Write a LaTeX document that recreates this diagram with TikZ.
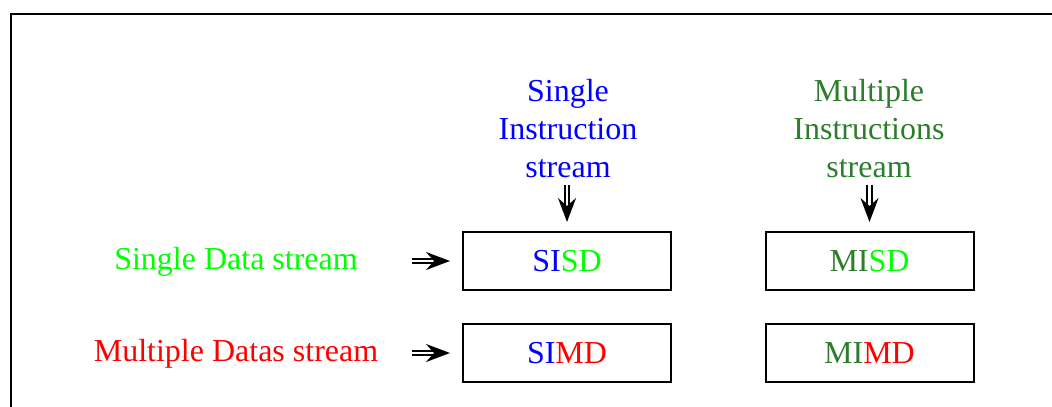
\documentclass[tikz,border=0pt]{standalone}
\usepackage{fontspec}
\setmainfont{Liberation Serif}
\usepackage{xcolor}
\usetikzlibrary{arrows.meta, positioning}
\definecolor{instgreen}{RGB}{45,125,45}
\definecolor{datagreen}{RGB}{0,255,0}
\definecolor{datared}{RGB}{255,0,0}
\definecolor{instblue}{RGB}{0,0,255}

\begin{document}
\begin{tikzpicture}[
    x=0.5pt, y=-0.5pt,
    every node/.style={font=\fontsize{16}{19}\selectfont},
    label/.style={align=center, inner sep=0pt},
    classbox/.style={draw, line width=1pt, rectangle, minimum width=104pt, minimum height=29pt},
    dblarrow/.style={double, line width=0.9pt, double distance=1.4pt, -{Stealth[length=12pt, width=9pt, inset=4pt]}}
]
\useasboundingbox (0,0) rectangle (1052,406);

% Frame
\draw[line width=0.8pt] (11,430) -- (11,14) -- (1070,14);

% Instruction streams
\node[label, text=instblue] (si) at (568,129) {Single\\Instruction\\stream};
\node[label, text=instgreen] (mi) at (869,129) {Multiple\\Instructions\\stream};

% Data streams
\node[label, text=datagreen] (sd) at (236,262) {Single Data stream};
\node[label, text=datared] (md) at (236,354) {Multiple Datas stream};

% Classes
\node[classbox] (sisd) at (567,261) {\textcolor{instblue}{SI}\textcolor{datagreen}{SD}};
\node[classbox] (misd) at (869.5,261) {\textcolor{instgreen}{MI}\textcolor{datagreen}{SD}};
\node[classbox] (simd) at (567,353) {\textcolor{instblue}{SI}\textcolor{datared}{MD}};
\node[classbox] (mimd) at (869.5,353) {\textcolor{instgreen}{MI}\textcolor{datared}{MD}};

% Arrow starts
\coordinate (siin) at (567,185);
\coordinate (miin) at (869.5,185);
\coordinate (sdin) at (412,261);
\coordinate (mdin) at (412,353);

% Arrows
\draw[dblarrow, shorten >=4.5pt] (siin) -- (sisd);
\draw[dblarrow, shorten >=4.5pt] (miin) -- (misd);
\draw[dblarrow, shorten >=6pt] (sdin) -- (sisd);
\draw[dblarrow, shorten >=6pt] (mdin) -- (simd);

\end{tikzpicture}
\end{document}
